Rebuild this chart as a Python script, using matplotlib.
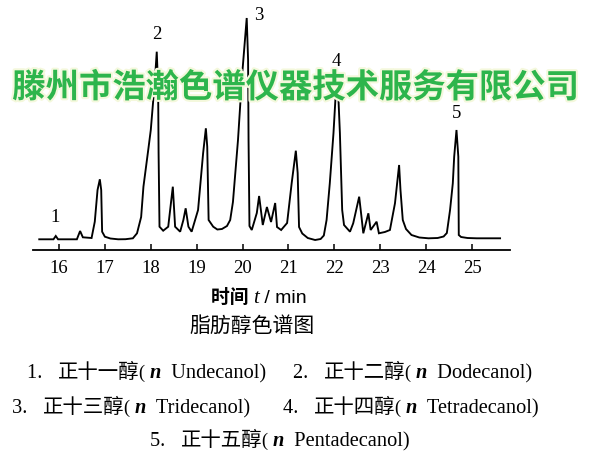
import matplotlib
matplotlib.use('Agg')
import matplotlib.pyplot as plt
import matplotlib.patheffects as pe
import numpy as np

# ---------------- data ----------------
time_min = [15.57, 15.88, 15.93, 15.98, 16.39, 16.46, 16.52, 16.71, 16.78, 16.84,
            16.89, 16.92, 16.94, 17.00, 17.12, 17.29, 17.45, 17.61, 17.70, 17.79,
            17.84, 17.95, 18.00, 18.09, 18.13, 18.16, 18.17, 18.19, 18.27, 18.38,
            18.48, 18.53, 18.64, 18.71, 18.76, 18.82, 18.89, 19.03, 19.14, 19.20,
            19.23, 19.26, 19.36, 19.45, 19.55, 19.66, 19.73, 19.79, 19.90, 19.99,
            20.09, 20.12, 20.13, 20.15, 20.20, 20.31, 20.36, 20.44, 20.53, 20.62,
            20.71, 20.75, 20.84, 20.97, 21.07, 21.16, 21.20, 21.23, 21.30, 21.42,
            21.58, 21.70, 21.77, 21.83, 21.90, 21.98, 22.03, 22.07, 22.12, 22.17,
            22.21, 22.34, 22.41, 22.54, 22.59, 22.63, 22.74, 22.79, 22.92, 22.97,
            23.10, 23.21, 23.32, 23.41, 23.44, 23.49, 23.56, 23.68, 23.85, 24.05,
            24.25, 24.38, 24.45, 24.52, 24.58, 24.61, 24.66, 24.70, 24.71, 24.76,
            24.90, 25.10, 25.61]
signal = [10.7, 10.7, 14.0, 10.7, 10.7, 19.0, 12.7, 12.0, 28.3, 60.0,
          70.7, 60.0, 18.3, 13.3, 11.5, 10.7, 10.8, 11.7, 16.7, 33.0,
          63.3, 102.0, 120.0, 170.0, 198.3, 163.0, 97.0, 23.3, 19.3, 23.3,
          63.3, 23.3, 18.3, 30.0, 41.7, 23.3, 18.3, 40.0, 96.7, 121.7,
          103.3, 30.0, 23.3, 20.5, 21.0, 24.0, 30.0, 48.0, 110.0, 175.0,
          232.0, 190.0, 110.0, 24.0, 20.0, 37.0, 54.0, 25.0, 43.0, 28.0,
          47.0, 23.0, 20.0, 27.0, 67.0, 99.3, 77.0, 23.0, 16.5, 12.0,
          10.0, 11.0, 14.5, 30.0, 66.7, 116.7, 156.7, 171.0, 117.0, 40.0,
          25.0, 18.3, 26.7, 53.3, 33.3, 16.7, 36.7, 20.0, 28.3, 16.7,
          18.0, 20.0, 46.7, 85.0, 60.0, 30.0, 21.0, 15.0, 12.5, 11.7,
          12.0, 13.5, 17.0, 40.0, 66.7, 93.3, 120.0, 93.3, 15.0, 13.0,
          12.0, 11.7, 11.7]

tick_values = [16, 17, 18, 19, 20, 21, 22, 23, 24, 25]
tick_labels = [str(v) for v in tick_values]

peak_numbers = ['1', '2', '3', '4', '5']
peak_times = [15.93, 18.13, 20.09, 22.07, 24.66]

axis_label_cn = '时间'
axis_label_var = 't'
axis_label_unit = ' / min'
caption = '脂肪醇色谱图'
legend_nums = ['1.', '2.', '3.', '4.', '5.']
legend_cn = ['正十一醇', '正十二醇', '正十三醇', '正十四醇', '正十五醇']
legend_en = ['Undecanol', 'Dodecanol', 'Tridecanol', 'Tetradecanol', 'Pentadecanol']
watermark = '滕州市浩瀚色谱仪器技术服务有限公司'

# ---------------- figure ----------------
W, H = 600, 462
fig = plt.figure(figsize=(W / 100, H / 100), dpi=100)
fig.patch.set_facecolor('white')

ax = fig.add_axes([33 / W, 1 - 250 / H, 477 / W, 240 / H])
ax.plot(time_min, signal, color='black', lw=1.35, solid_joinstyle='miter', clip_on=False)
ax.set_xlim(15.434, 25.826)
ax.set_ylim(0, 240)
for s in ['top', 'right', 'left']:
    ax.spines[s].set_visible(False)
ax.spines['bottom'].set_linewidth(1.3)
ax.set_yticks([])
ax.set_xticks(tick_values)
ax.set_xticklabels(tick_labels, fontfamily='Liberation Serif', fontsize=13.5)
ax.tick_params(axis='x', direction='in', length=4, width=1.1, pad=7)
ax.patch.set_alpha(0)

serif = 'Liberation Serif'
cjk = 'Noto Sans CJK SC'

# peak number labels
t_arr = np.array(time_min)
s_arr = np.array(signal)
offsets = [(-1, 19), (0, 17), (12, 2), (-1, 17), (0, 16)]
for lab, pt, off in zip(peak_numbers, peak_times, offsets):
    i = int(np.argmin(np.abs(t_arr - pt)))
    ax.annotate(lab, (t_arr[i], s_arr[i]), xytext=off, textcoords='offset pixels',
                ha='center', va='center', fontfamily=serif, fontsize=13.5,
                annotation_clip=False)

renderer = fig.canvas.get_renderer()


def runs(x, y, parts, ha='left'):
    arts, widths = [], []
    for txt, kw in parts:
        t = fig.text(0, 1 - y / H, txt, va='baseline', ha='left', **kw)
        bb = t.get_window_extent(renderer)
        arts.append(t)
        widths.append(bb.width)
    total = sum(widths)
    x0 = x - total / 2 if ha == 'center' else x
    for t, w in zip(arts, widths):
        t.set_x(x0 / W)
        x0 += w


# axis label
runs(259, 303, [(axis_label_cn + ' ', dict(fontfamily=cjk, fontweight='bold', fontsize=13.5)),
                (axis_label_var, dict(fontfamily=serif, fontstyle='italic', fontsize=15)),
                (axis_label_unit, dict(fontfamily='Liberation Sans', fontsize=14))],
     ha='center')

# caption
runs(252, 332, [(caption, dict(fontfamily=cjk, fontsize=15))], ha='center')

# legend entries
fs = 14.7
entry_pos = [(27, 378, 'left'), (293, 378, 'left'), (12, 413, 'left'),
             (283, 413, 'left'), (280, 446, 'center')]
for (x, y, ha), num, cn, en in zip(entry_pos, legend_nums, legend_cn, legend_en):
    runs(x, y, [(num + '   ', dict(fontfamily=serif, fontsize=fs)),
                (cn, dict(fontfamily=cjk, fontsize=fs)),
                ('( ', dict(fontfamily=serif, fontsize=fs * 0.9)),
                ('n', dict(fontfamily=serif, fontstyle='italic', fontweight='bold', fontsize=fs)),
                ('  ' + en + ')', dict(fontfamily=serif, fontsize=fs))], ha=ha)

# watermark
fig.text(296 / W, 1 - 88 / H, watermark, ha='center', va='center', fontfamily=cjk,
         fontweight='bold', fontsize=24, color='#2db54c', zorder=10,
         path_effects=[pe.withStroke(linewidth=3, foreground='#f4f8dc')])

fig.savefig('out.png', dpi=100, facecolor='white')
